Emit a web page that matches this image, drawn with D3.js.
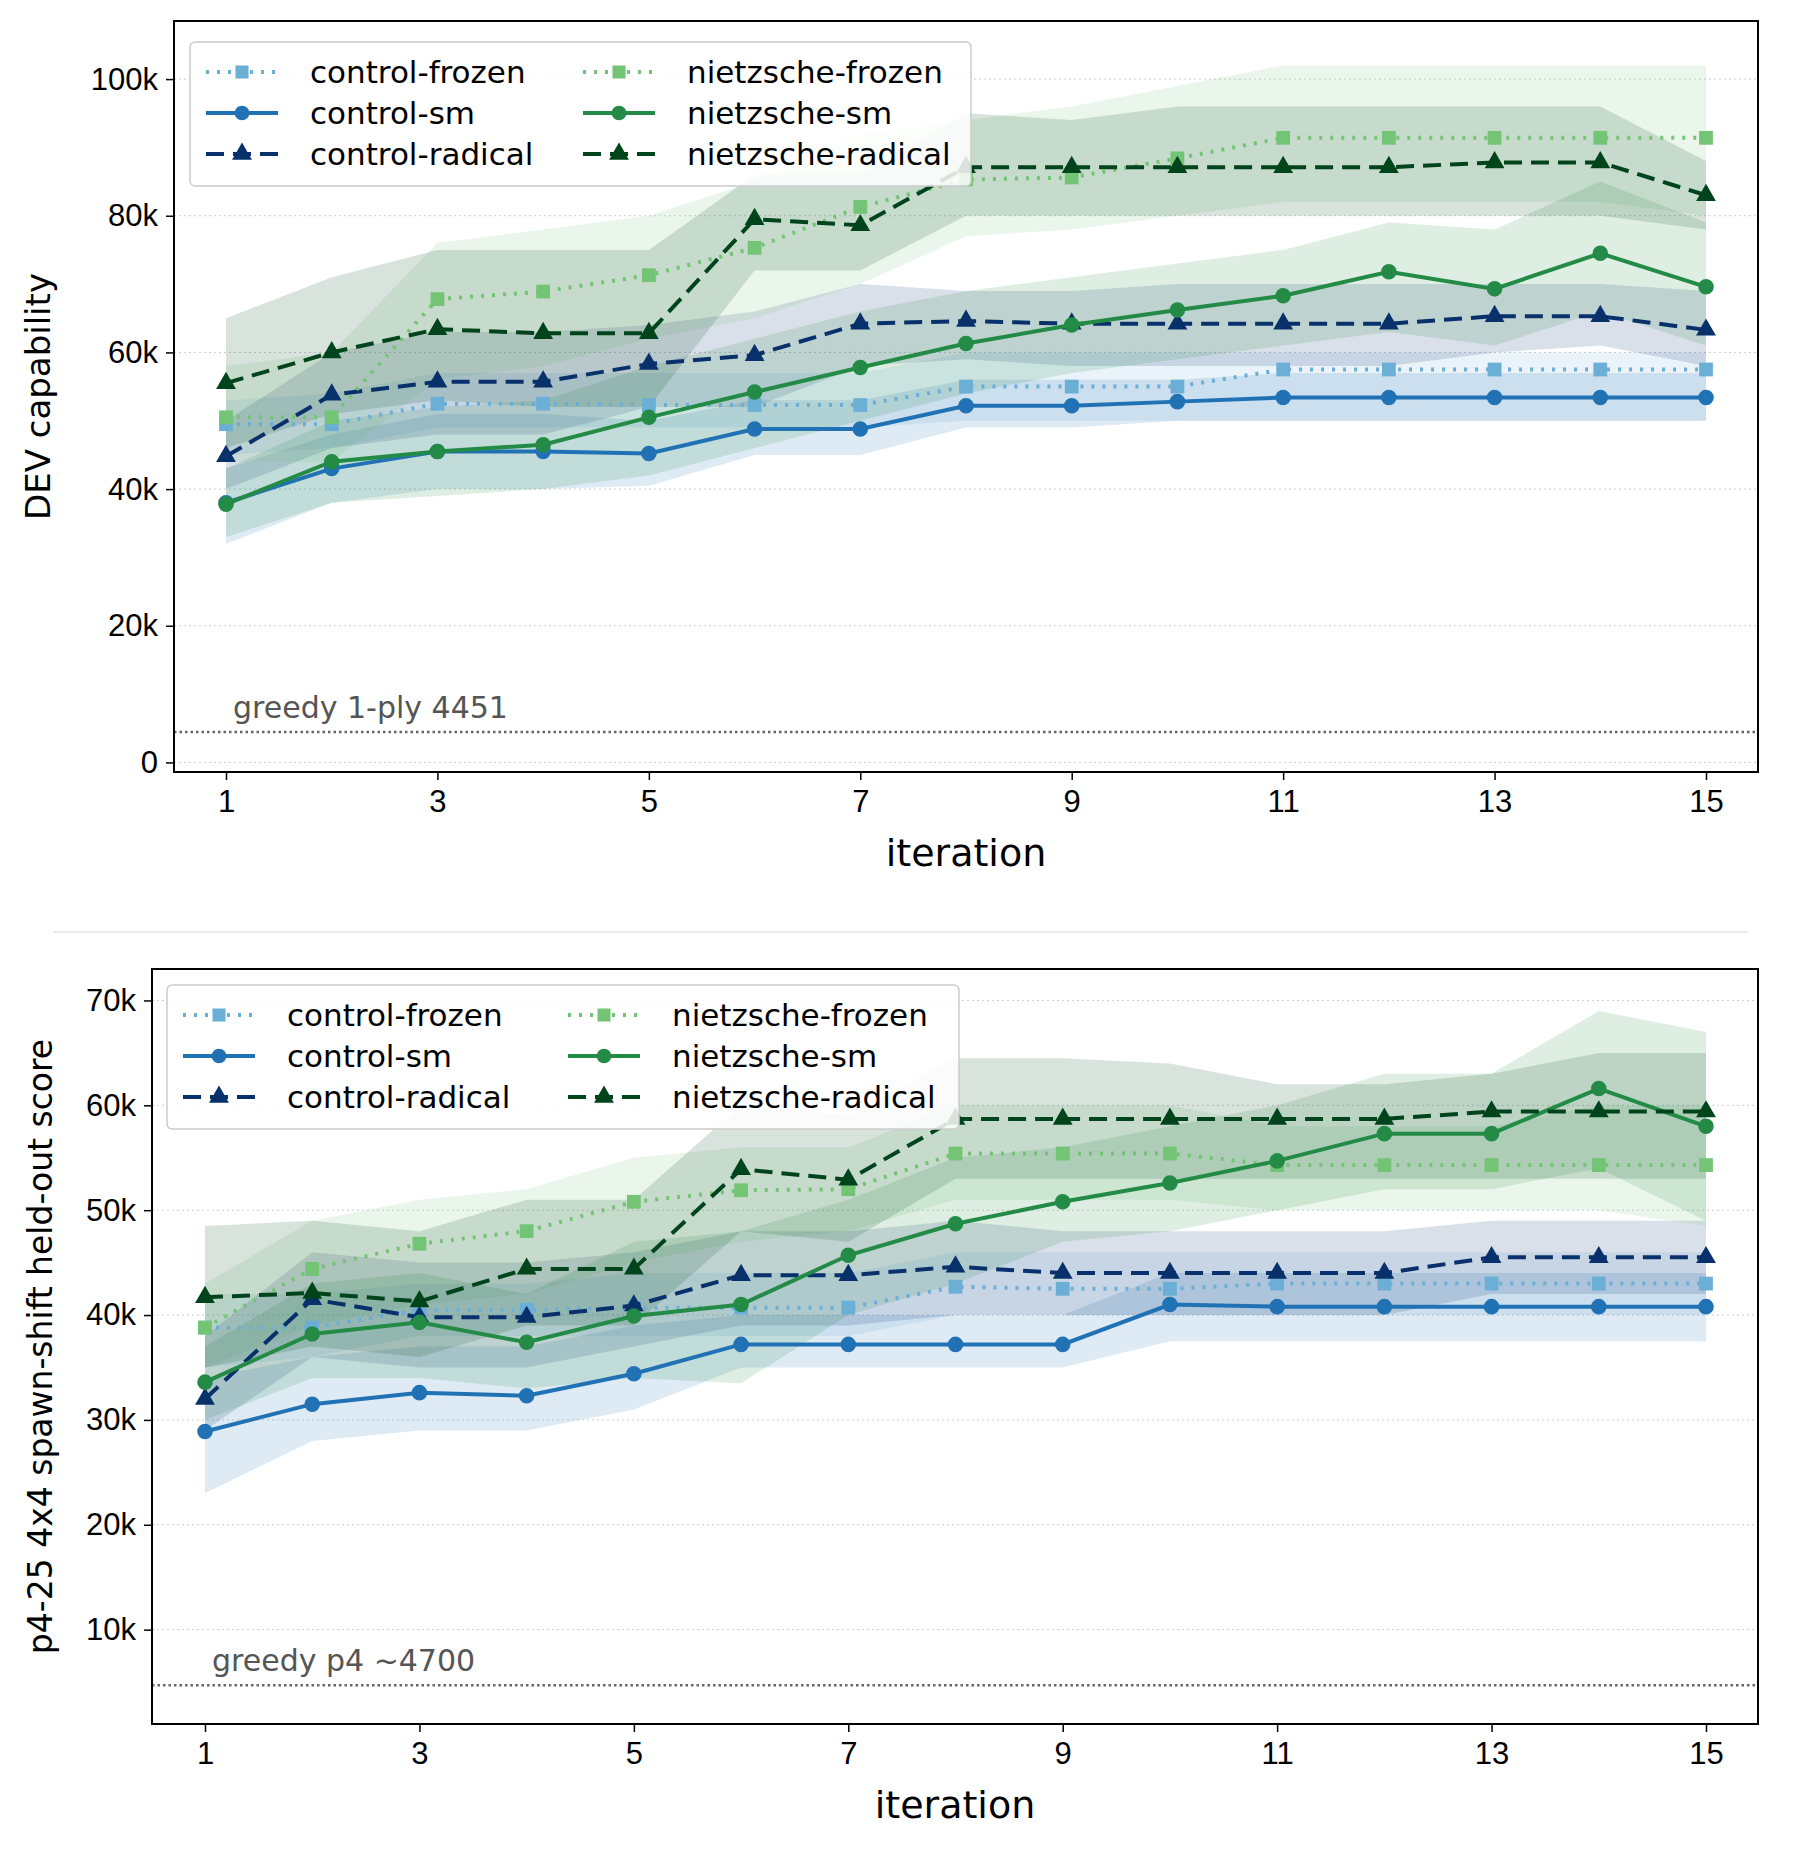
<!DOCTYPE html>
<html><head><meta charset="utf-8">
<script src="https://cdn.jsdelivr.net/npm/d3@7"></script>
<style>body{margin:0;background:#fff}svg{font-family:"DejaVu Sans",sans-serif}</style>
</head><body><svg id="chart" width="1800" height="1859"></svg>
<script>
const iterations = d3.range(1, 16);
const seriesNames = ["control-frozen", "control-sm", "control-radical", "nietzsche-frozen", "nietzsche-sm", "nietzsche-radical"];
const xTicks = [1, 3, 5, 7, 9, 11, 13, 15];

// top panel: DEV capability (thousands)
const devMean = [
  [49.5,49.5,52.5,52.5,52.3,52.3,52.3,55,55,55,57.5,57.5,57.5,57.5,57.5],
  [38,43,45.5,45.5,45.2,48.8,48.8,52.2,52.2,52.8,53.4,53.4,53.4,53.4,53.4],
  [44.8,53.8,55.7,55.7,58.3,59.6,64.2,64.6,64.2,64.2,64.2,64.2,65.3,65.3,63.3],
  [50.5,50.5,67.8,68.9,71.3,75.3,81.3,85.3,85.6,88.4,91.4,91.4,91.4,91.4,91.4],
  [37.8,44,45.5,46.5,50.5,54.2,57.8,61.3,64,66.2,68.3,71.8,69.3,74.5,69.6],
  [55.5,60,63.4,62.8,62.8,79.5,78.6,87.1,87.1,87.1,87.1,87.1,87.8,87.8,83]
];
const devLow = [
  [45,46,49,49,49,49,49,50,50,50,50,50,50,50,50],
  [32,38,40,40,40.5,45,45,49,49,50,50,50,50,50,50],
  [40,46,48,48,52,52,58,59,58,58,58,58,60,61,58],
  [44,44,56,58,62,65,70,77,78,80,82,82,82,82,80],
  [33,38,39,40,42,46,50,54,57,59,61,63,61,66,61],
  [46,51,53,52,52,72,72,80,80,80,80,80,80,80,78]
];
const devHigh = [
  [53,54,57,57,57,57,57,60,60,60,60,60,60,60,60],
  [43,48,51,51,50,53,53,56,56,56,57,57,57,57,57],
  [50,60,63,63,64,66,70,69,69,70,70,70,70,70,69],
  [58,60,76,78,80,85,92,94,96,99,102,102,102,102,102],
  [43,50,52,53,58,62,66,69,71,73,75,79,78,85,79],
  [65,71,75,75,75,86,86,95,94,96,96,96,96,96,88]
];
const devYTicks = [0, 20, 40, 60, 80, 100];

// bottom panel: p4-25 held-out score (thousands)
const heldMean = [
  [38.8,38.8,40.5,40.5,40.7,40.7,40.7,42.7,42.5,42.5,43,43,43,43,43],
  [28.9,31.5,32.6,32.3,34.4,37.2,37.2,37.2,37.2,41,40.8,40.8,40.8,40.8,40.8],
  [32,41.5,39.8,39.8,40.9,43.8,43.8,44.6,44,44,44,44,45.5,45.5,45.5],
  [38.8,44.4,46.8,48,50.8,51.9,52,55.4,55.4,55.4,54.3,54.3,54.3,54.3,54.3],
  [33.6,38.2,39.3,37.4,39.9,41,45.7,48.7,50.8,52.6,54.7,57.3,57.3,61.6,58],
  [41.7,42.1,41.3,44.4,44.4,53.9,52.9,58.7,58.7,58.7,58.7,58.7,59.4,59.4,59.4]
];
const heldLow = [
  [35,36,38,38,38,38,38,40,40,40,40,40,40,40,40],
  [23,28,29,29,31,35,35,35,35,37.5,37.5,37.5,37.5,37.5,37.5],
  [29,36,35,35,37,39,39,40,40,40,40,40,42,42,42],
  [35,39,41,42,45,47,48,51,51,51,50,50,50,50,48.5],
  [30,34,34,33,34,33.5,40,43,47,48,50,52,52,54,49],
  [35,37,36,39,39,48,47,53,53,53,53,53,53,53,53]
];
const heldHigh = [
  [42,42,43,43,44,44,44,46,46,46,46,46,46,46,46],
  [34,36,37,37,39,40,40,40,40,44,44,44,44,44,44],
  [38,46,45,45,46,48,48,49,48,48,48,48,49,49,49],
  [43,49,51,52,55,56,56,60,60,60,58,58,58,60,60],
  [37,43,44,42,47,48,51,55,56,58,60,63,63,69,67],
  [48.5,49,48,51,51,60,59,64.5,64.5,64,62,62,63,65,65]
];
const heldYTicks = [10, 20, 30, 40, 50, 60, 70];

const colors = ["#6baed6", "#2171b5", "#08306b", "#74c476", "#238b45", "#00441b"];
const dashes = ["3,8", null, "18,9", "3,8", null, "18,9"];
const markers = [d3.symbolSquare, d3.symbolCircle, d3.symbolTriangle, d3.symbolSquare, d3.symbolCircle, d3.symbolTriangle];

const svg = d3.select("#chart");

function drawPanel(p) {
  const step = (p.x15 - p.x1) / 14;
  const x = d3.scaleLinear()
    .domain([1 - (p.x1 - p.left) / step, 15 + (p.right - p.x15) / step])
    .range([p.left, p.right]);
  const y = d3.scaleLinear().domain(p.yDomain).range([p.bottom, p.top]);
  const g = svg.append("g");

  // grid
  g.selectAll(".grid").data(p.yTicks).join("line")
    .attr("x1", p.left).attr("x2", p.right)
    .attr("y1", d => y(d)).attr("y2", d => y(d))
    .attr("stroke", "#ccc").attr("stroke-width", 1).attr("stroke-dasharray", "2,3");

  const area = d3.area().x((d, i) => x(iterations[i])).y0(d => y(d[0])).y1(d => y(d[1]));
  const line = d3.line().x((d, i) => x(iterations[i])).y(d => y(d));

  seriesNames.forEach((s, k) => {
    const band = p.low[k].map((v, i) => [v, p.high[k][i]]);
    g.append("path").datum(band).attr("d", area).attr("fill", colors[k]).attr("fill-opacity", 0.15);
  });
  seriesNames.forEach((s, k) => {
    g.append("path").datum(p.mean[k]).attr("d", line).attr("fill", "none")
      .attr("stroke", colors[k]).attr("stroke-width", 4)
      .attr("stroke-dasharray", dashes[k]);
    g.selectAll(null).data(p.mean[k]).join("path")
      .attr("transform", (d, i) => `translate(${x(iterations[i])},${y(d)})`)
      .attr("d", d3.symbol().type(markers[k]).size(markers[k] === d3.symbolTriangle ? 170 : 190))
      .attr("fill", colors[k]);
  });

  // baseline
  g.append("line").attr("x1", p.left).attr("x2", p.right)
    .attr("y1", y(p.baseline)).attr("y2", y(p.baseline))
    .attr("stroke", "#666").attr("stroke-width", 2.5).attr("stroke-dasharray", "2.5,3");
  g.append("text").attr("x", p.x1 + 7).attr("y", y(p.baseline) - 14)
    .attr("font-size", 30).attr("fill", "#555").text(p.baselineLabel);

  // frame
  g.append("rect").attr("x", p.left).attr("y", p.top)
    .attr("width", p.right - p.left).attr("height", p.bottom - p.top)
    .attr("fill", "none").attr("stroke", "#000").attr("stroke-width", 2);

  const xa = g.append("g").attr("transform", `translate(0,${p.bottom})`)
    .call(d3.axisBottom(x).tickValues(xTicks).tickSize(8).tickPadding(10));
  const ya = g.append("g").attr("transform", `translate(${p.left},0)`)
    .call(d3.axisLeft(y).tickValues(p.yTicks).tickSize(8).tickPadding(8).tickFormat(d => d === 0 ? "0" : d + "k"));
  [xa, ya].forEach(a => {
    a.select(".domain").remove();
    a.selectAll("line").attr("stroke", "#000").attr("stroke-width", 1.5);
    a.selectAll("text").attr("font-size", 31).attr("fill", "#000");
  });

  g.append("text").attr("x", (p.left + p.right) / 2).attr("y", p.bottom + 94)
    .attr("text-anchor", "middle").attr("font-size", 38).text("iteration");
  g.append("text").attr("transform", `translate(${p.yLabelX},${(p.top + p.bottom) / 2}) rotate(-90)`)
    .attr("text-anchor", "middle").attr("font-size", p.yLabelSize).text(p.yLabel);

  // legend
  const lg = g.append("g").attr("transform", `translate(${p.legX},${p.legY})`);
  lg.append("rect").attr("width", p.legW).attr("height", 144).attr("rx", 5)
    .attr("fill", "#fff").attr("fill-opacity", 0.85).attr("stroke", "#ccc").attr("stroke-width", 1.5);
  seriesNames.forEach((name, k) => {
    const col = Math.floor(k / 3), row = k % 3;
    const ox = 16 + col * p.legCol, oy = 30 + row * 41;
    lg.append("line").attr("x1", ox).attr("x2", ox + 72).attr("y1", oy).attr("y2", oy)
      .attr("stroke", colors[k]).attr("stroke-width", 4).attr("stroke-dasharray", dashes[k]);
    lg.append("path").attr("transform", `translate(${ox + 36},${oy})`)
      .attr("d", d3.symbol().type(markers[k]).size(170)).attr("fill", colors[k]);
    lg.append("text").attr("x", ox + 104).attr("y", oy + 11).attr("font-size", 31).text(name);
  });
}

drawPanel({
  left: 174, right: 1758, top: 21, bottom: 772, x1: 226, x15: 1706,
  yDomain: [-1.4, 108.5], yTicks: devYTicks, mean: devMean, low: devLow, high: devHigh,
  baseline: 4.451, baselineLabel: "greedy 1-ply 4451", yLabel: "DEV capability", yLabelX: 50, yLabelSize: 34,
  legX: 190, legY: 42, legW: 781, legCol: 377
});
drawPanel({
  left: 152, right: 1758, top: 969, bottom: 1724, x1: 205, x15: 1706,
  yDomain: [1, 73], yTicks: heldYTicks, mean: heldMean, low: heldLow, high: heldHigh,
  baseline: 4.7, baselineLabel: "greedy p4 ~4700", yLabel: "p4-25 4x4 spawn-shift held-out score", yLabelX: 52, yLabelSize: 33,
  legX: 167, legY: 985, legW: 792, legCol: 385
});

svg.append("line").attr("x1", 53).attr("x2", 1748).attr("y1", 932).attr("y2", 932)
  .attr("stroke", "#e4e4e4").attr("stroke-width", 1.5);
</script></body></html>
